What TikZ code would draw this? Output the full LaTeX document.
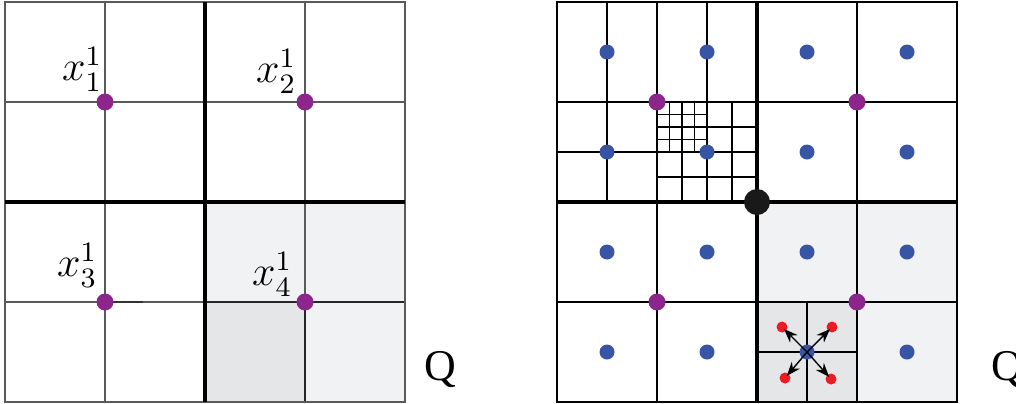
\documentclass[tikz,border=0pt]{standalone}
\usepackage{fontspec}
\newfontfamily\qfont{Liberation Serif}
\usetikzlibrary{arrows.meta}

\definecolor{dotpurple}{RGB}{140,38,140}
\definecolor{dotblue}{RGB}{56,84,164}
\definecolor{dotred}{RGB}{237,28,36}
\definecolor{shadeA}{RGB}{241,242,244}
\definecolor{shadeB}{RGB}{229,230,232}
\definecolor{gridgray}{RGB}{90,90,90}

\begin{document}
\begin{tikzpicture}[
  thinline/.style={line width=0.45pt},
  thickline/.style={line width=1.3pt},
  pdot/.style={circle,fill=dotpurple,inner sep=0pt,minimum size=0.17cm},
  bdot/.style={circle,fill=dotblue,inner sep=0pt,minimum size=0.15cm},
  rdot/.style={circle,fill=dotred,inner sep=0pt,minimum size=0.11cm},
  xlab/.style={anchor=south east,inner sep=0pt,font=\large},
  qlab/.style={font=\qfont\fontsize{12.5}{14}\selectfont}
]
\useasboundingbox (0,0) rectangle (10.16,4.03);

% left square
\begin{scope}[shift={(0.05,0.01)}]
\fill[shadeA] (2,0) rectangle (4,2);
\fill[shadeB] (2,0) rectangle (3,1);
\draw[thinline,gridgray] (1,0) -- (1,4);
\draw[thinline,gridgray] (3,0) -- (3,4);
\draw[thinline,gridgray] (0,1) -- (4,1);
\draw[thinline,gridgray] (0,3) -- (4,3);
\draw[thinline,black!85] (2,1) -- (4,1);
\draw[thinline,black!85] (3,0) -- (3,1);
\draw[thinline,black!80] (1,1) -- (1.38,1);
\draw[thinline,gridgray] (0,0) rectangle (4,4);
\draw[thickline] (2,0) -- (2,4);
\draw[thickline] (0,2) -- (4,2);

\node[pdot] (p1) at (1,3) {};
\node[pdot] (p2) at (3,3) {};
\node[pdot] (p3) at (1,1) {};
\node[pdot] (p4) at (3,1) {};
\node[xlab] (l1) at (0.98,3.1) {$x^1_1$};
\node[xlab] (l2) at (2.92,3.08) {$x^1_2$};
\node[xlab] (l3) at (0.93,1.14) {$x^1_3$};
\node[xlab] (l4) at (2.88,1.05) {$x^1_4$};
\end{scope}

\node[qlab] (q1) at (4.40,0.33) {Q};

% right square
\begin{scope}[shift={(5.57,0.01)}]
\fill[shadeA] (2,0) rectangle (4,2);
\fill[shadeB] (2,0) rectangle (3,1);
\draw[thinline] (0,0) rectangle (4,4);
\draw[thinline] (1,0) -- (1,4);
\draw[thinline] (3,0) -- (3,4);
\draw[thinline] (0,1) -- (4,1);
\draw[thinline] (0,3) -- (4,3);

% refined cells, top left
\draw[thinline] (0.5,2) -- (0.5,4);
\draw[thinline] (1.5,2) -- (1.5,4);
\draw[thinline] (0,2.5) -- (2,2.5);
\foreach \t in {1.25,1.75} \draw[thinline] (\t,2) -- (\t,3);
\foreach \t in {2.25,2.75} \draw[thinline] (1,\t) -- (2,\t);
\foreach \t in {1.125,1.375} \draw[thinline] (\t,2.5) -- (\t,3);
\foreach \t in {2.625,2.875} \draw[thinline] (1,\t) -- (1.5,\t);

% refined cell, bottom right
\draw[thinline] (2.5,0) -- (2.5,1);
\draw[thinline] (2,0.5) -- (3,0.5);

\draw[thickline] (2,0) -- (2,4);
\draw[thickline] (0,2) -- (4,2);

\foreach \i in {0,...,3}
  \foreach \j in {0,...,3}
    \node[bdot] (b\i\j) at (\i+0.5,\j+0.5) {};

\node[pdot] (m1) at (1,3) {};
\node[pdot] (m2) at (3,3) {};
\node[pdot] (m3) at (1,1) {};
\node[pdot] (m4) at (3,1) {};
\node[circle,fill=black!90,inner sep=0pt,minimum size=0.26cm] (c) at (2,2) {};

\node[rdot] (r1) at (2.25,0.75) {};
\node[rdot] (r2) at (2.75,0.75) {};
\node[rdot] (r3) at (2.28,0.24) {};
\node[rdot] (r4) at (2.74,0.23) {};
\coordinate (s) at (2.5,0.5);
\foreach \r in {r1,r2,r3,r4}
  \draw[line width=0.4pt,-{Stealth[length=4pt,width=3pt]},shorten >=-1pt] (s) -- (\r);
\end{scope}

\node[qlab] (q2) at (10.07,0.33) {Q};
\end{tikzpicture}
\end{document}
